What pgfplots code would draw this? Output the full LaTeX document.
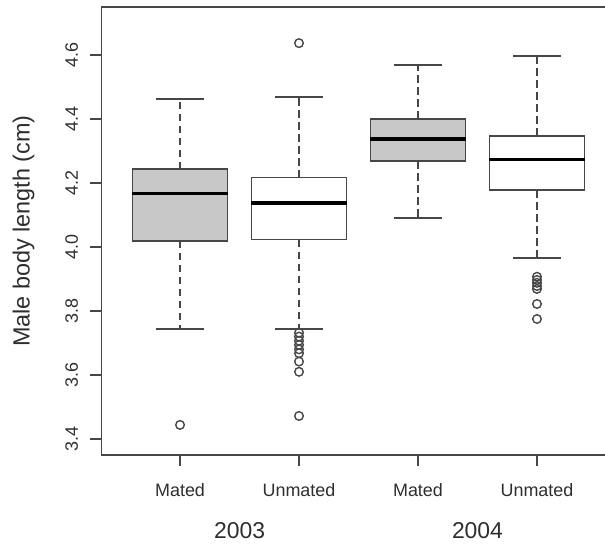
\documentclass[border=0pt]{standalone}
\usepackage{fontspec}
\setmainfont{Liberation Sans}
\usepackage{pgfplots}
\usepgfplotslibrary{statistics}
\pgfplotsset{compat=1.18}

\definecolor{ln}{HTML}{474747}
\definecolor{boxgray}{HTML}{C8C8C8}
\definecolor{txt}{HTML}{2E2E2E}

% R-style box: dashed whisker, solid cap, heavy median
\pgfplotsset{
  rbox/.style={
    draw=ln, line width=1.6bp, mark=o, mark size=4.3bp,
    mark options={draw=ln, line width=1.4bp, solid},
    boxplot/draw direction=y,
    boxplot/box extend=0.8,
    boxplot/every box/.style={fill=#1},
    boxplot/every median/.style={draw=black, line width=3.4bp},
    boxplot/draw/lower whisker/.code={
      \draw[dash pattern=on 7.5bp off 4.5bp]
        (boxplot cs:\pgfplotsboxplotvalue{lower quartile},0) --
        (boxplot cs:\pgfplotsboxplotvalue{lower whisker},0);
      \draw (boxplot cs:\pgfplotsboxplotvalue{lower whisker},-0.2) --
        (boxplot cs:\pgfplotsboxplotvalue{lower whisker},0.2);
    },
    boxplot/draw/upper whisker/.code={
      \draw[dash pattern=on 7.5bp off 4.5bp]
        (boxplot cs:\pgfplotsboxplotvalue{upper quartile},0) --
        (boxplot cs:\pgfplotsboxplotvalue{upper whisker},0);
      \draw (boxplot cs:\pgfplotsboxplotvalue{upper whisker},-0.2) --
        (boxplot cs:\pgfplotsboxplotvalue{upper whisker},0.2);
    },
  },
}

\begin{document}
\begin{tikzpicture}[x=1bp,y=1bp]
  \useasboundingbox (0,0) rectangle (605,544);
  \clip (0,0) rectangle (605,544);
  \begin{axis}[
    at={(101.5bp,89bp)}, anchor=south west,
    scale only axis, width=514bp, height=448bp,
    xmin=0.34, xmax=4.66, ymin=3.35, ymax=4.75,
    axis line style={draw=ln, line width=1.4bp},
    tick style={draw=ln, line width=1.4bp},
    tick align=outside, major tick length=11bp,
    xtick pos=bottom, ytick pos=left,
    xtick={1,2,3,4},
    xticklabels={Mated,Unmated,Mated,Unmated},
    ytick={3.4,3.6,3.8,4.0,4.2,4.4,4.6},
    /pgf/number format/fixed, /pgf/number format/fixed zerofill,
    /pgf/number format/precision=1, /pgf/number format/assume math mode=true,
    tick label style={font=\fontsize{18}{20}\selectfont, text=txt},
    yticklabel style={rotate=90, anchor=south},
    xticklabel shift=14bp, yticklabel shift=9bp,
    clip=false,
  ]
    % 2003 mated
    \addplot[rbox=boxgray, boxplot prepared={draw position=1,
      lower whisker=3.744, lower quartile=4.019, median=4.167,
      upper quartile=4.243, upper whisker=4.4625}]
      coordinates {(0,3.444)};
    % 2003 unmated
    \addplot[rbox=white, boxplot prepared={draw position=2,
      lower whisker=3.743, lower quartile=4.023, median=4.137,
      upper quartile=4.217, upper whisker=4.468}]
      coordinates {(0,4.637) (0,3.732) (0,3.720) (0,3.707) (0,3.694)
        (0,3.680) (0,3.668) (0,3.642) (0,3.610) (0,3.472)};
    % 2004 mated
    \addplot[rbox=boxgray, boxplot prepared={draw position=3,
      lower whisker=4.091, lower quartile=4.268, median=4.3375,
      upper quartile=4.400, upper whisker=4.569}]
      coordinates {};
    % 2004 unmated
    \addplot[rbox=white, boxplot prepared={draw position=4,
      lower whisker=3.965, lower quartile=4.178, median=4.274,
      upper quartile=4.347, upper whisker=4.597}]
      coordinates {(0,3.907) (0,3.897) (0,3.888) (0,3.878) (0,3.869)
        (0,3.822) (0,3.775)};

    \node[font=\fontsize{23}{26}\selectfont, text=txt, inner sep=0pt]
      at ({axis cs:1.5,3.35}) [yshift=-76bp] {2003};
    \node[font=\fontsize{23}{26}\selectfont, text=txt, inner sep=0pt]
      at ({axis cs:3.5,3.35}) [yshift=-76bp] {2004};
    \node[font=\fontsize{23.5}{26}\selectfont, text=txt, rotate=90]
      at (axis description cs:-0.1518,0.5) {Male body length (cm)};
  \end{axis}
\end{tikzpicture}
\end{document}
